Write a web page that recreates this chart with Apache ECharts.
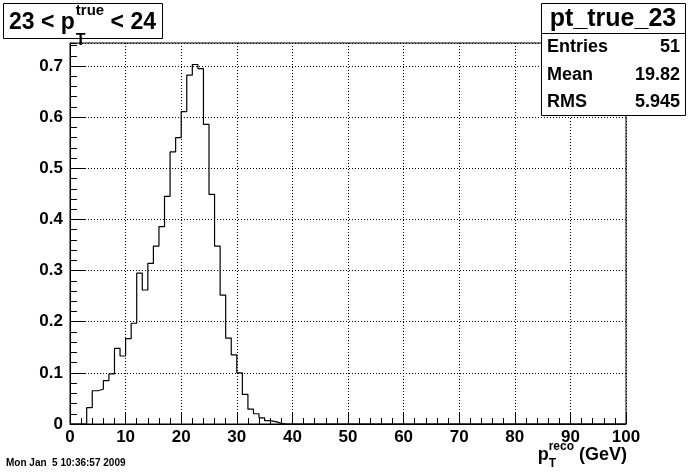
<!DOCTYPE html>
<html><head><meta charset="utf-8">
<script src="https://cdn.jsdelivr.net/npm/echarts@6/dist/echarts.min.js"></script>
<style>html,body{margin:0;padding:0;background:#fff}#c{width:696px;height:472px}</style>
</head><body><div id="c"></div>
<script>
// ---- data ----
const binLowEdges = [0,1,2,3,4,5,6,7,8,9,10,11,12,13,14,15,16,17,18,19,20,21,22,23,24,25,26,27,28,29,30,31,32,33,34,35,36,37,38,39,100];
const binValues   = [0,0,0,0.032,0.065,0.068,0.085,0.098,0.148,0.133,0.167,0.197,0.295,0.262,0.314,0.348,0.386,0.445,0.532,0.560,0.611,0.682,0.703,0.695,0.586,0.449,0.348,0.252,0.168,0.135,0.100,0.058,0.029,0.020,0.012,0.0067,0.0047,0.0013,0,0,0];
const xTickLabels = ['0','10','20','30','40','50','60','70','80','90','100'];
const yTickLabels = ['0','0.1','0.2','0.3','0.4','0.5','0.6','0.7'];
const statsTitle = 'pt_true_23';
const statsNames = ['Entries','Mean','RMS'];
const statsValues = ['51','19.82','5.945'];
const dateText = 'Mon Jan  5 10:36:57 2009';

const FONT = '"Liberation Sans", Arial, Helvetica, sans-serif';
const ctx = document.createElement('canvas').getContext('2d');
function tw(t, s){ ctx.font = 'bold ' + s + 'px ' + FONT; return ctx.measureText(t).width; }
function txt(t, x, y, s, align){ return {type:'text', z:100, style:{text:t, x:x, y:y, font:'bold '+s+'px '+FONT, fill:'#000', align:align||'left', verticalAlign:'middle'}}; }

const chart = echarts.init(document.getElementById('c'), null, {renderer:'canvas'});

const G = {left:70, right:70, top:43, bottom:48};
const data = binLowEdges.map((x,i)=>[x, binValues[i]]);

// Title "23 < p_T^true < 24"
const tMain = 23, tSup = 15, tSub = 16;
let tx = 9;
const title = [];
title.push({type:'rect', z:90, shape:{x:3.5,y:3.5,width:159,height:35}, style:{fill:'#fff', stroke:'#000', lineWidth:1}});
title.push(txt('23 < p', tx, 23, tMain)); tx += tw('23 < p', tMain) + 1;
title.push(txt('true', tx, 11, tSup));
title.push(txt('T', tx, 41, tSub));
tx += Math.max(tw('true', tSup), tw('T', tSub));
title.push(txt(' < 24', tx, 23, tMain));

// axis title "p_T^reco (GeV)"
const aMain = 18, aSup = 12, aSub = 12;
const aW = tw('p', aMain) + Math.max(tw('reco', aSup), tw('T', aSub)) + tw(' (GeV)', aMain);
let ax = 627 - aW;
const axTitle = [];
axTitle.push(txt('p', ax, 455, aMain)); ax += tw('p', aMain);
axTitle.push(txt('reco', ax, 447, aSup));
axTitle.push(txt('T', ax, 464, aSub));
ax += Math.max(tw('reco', aSup), tw('T', aSub));
axTitle.push(txt(' (GeV)', ax, 455, aMain));

// stats box
const sx = 541, sy = 3, sw = 144, sh = 112;
const stats = [
  {type:'rect', z:90, shape:{x:sx+0.5,y:sy+0.5,width:sw,height:sh}, style:{fill:'#fff', stroke:'#000', lineWidth:1}},
  {type:'line', z:95, shape:{x1:sx, y1:33.5, x2:sx+sw, y2:33.5}, style:{stroke:'#000', lineWidth:1}},
  txt(statsTitle, sx+sw/2, 19, 25, 'center')
];
const rowY = [47, 75, 102];
statsNames.forEach((n,i)=>{
  stats.push(txt(n, sx+6, rowY[i], 18));
  stats.push(txt(statsValues[i], sx+sw-5, rowY[i], 18, 'right'));
});

const option = {
  animation:false,
  backgroundColor:'#fff',
  grid:{left:G.left, right:G.right, top:G.top, bottom:G.bottom, show:true, borderColor:'#000', borderWidth:1, backgroundColor:'#fff'},
  xAxis:{
    type:'value', min:0, max:100, interval:10,
    axisLine:{show:true, onZero:false, lineStyle:{color:'#000', width:1}},
    axisTick:{show:true, inside:true, length:11, lineStyle:{color:'#000'}},
    minorTick:{show:true, splitNumber:5, length:6, lineStyle:{color:'#000'}},
    splitLine:{show:true, lineStyle:{color:'#000', width:1, type:[1,2]}},
    axisLabel:{margin:5, color:'#000', fontFamily:FONT, fontWeight:'bold', fontSize:17,
      formatter:(v)=>{const k=Math.round(v/10); return Math.abs(v-k*10)<1e-6 && xTickLabels[k]!==undefined ? xTickLabels[k] : '';}}
  },
  yAxis:[{
    type:'value', min:0, max:0.745, interval:0.1,
    axisLine:{show:true, onZero:false, lineStyle:{color:'#000', width:1}},
    axisTick:{show:true, inside:true, length:16, lineStyle:{color:'#000'}},
    splitLine:{show:true, lineStyle:{color:'#000', width:1, type:[1,2]}},
    axisLabel:{margin:7, color:'#000', fontFamily:FONT, fontWeight:'bold', fontSize:17, showMaxLabel:false,
      formatter:(v)=>{const k=Math.round(v*10); return Math.abs(v-k/10)<1e-6 && yTickLabels[k]!==undefined ? yTickLabels[k] : '';}}
  },{
    type:'value', min:0, max:0.745, interval:0.02, position:'left', offset:0,
    axisLine:{show:false}, axisLabel:{show:false}, splitLine:{show:false},
    axisTick:{show:true, inside:true, length:7, lineStyle:{color:'#000'}}
  }],
  series:[{
    type:'line', step:'end', data:data, showSymbol:false, symbol:'none',
    lineStyle:{color:'#000', width:1.2}, yAxisIndex:0, z:5
  }],
  graphic:[].concat(title, stats, axTitle, [txt(dateText, 6, 463, 10)])
};
chart.setOption(option);
</script></body></html>
